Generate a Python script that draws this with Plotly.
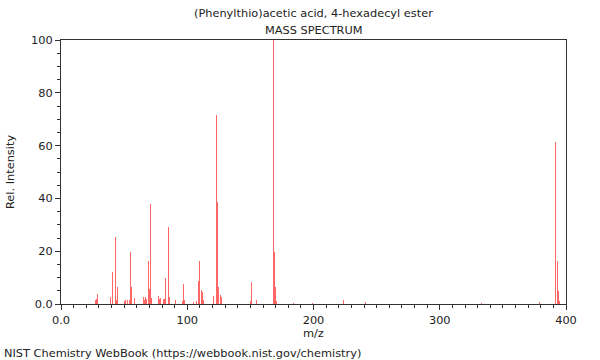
import plotly.graph_objects as go

title_text = "(Phenylthio)acetic acid, 4-hexadecyl ester"
subtitle_text = "MASS SPECTRUM"
footer_text = "NIST Chemistry WebBook (https://webbook.nist.gov/chemistry)"
x_title = "m/z"
y_title = "Rel. Intensity"

mz = [27, 28, 29, 39, 41, 42, 43, 44, 45, 50, 51, 53, 54, 55, 56, 57, 58,
      65, 66, 67, 68, 69, 70, 71, 72, 77, 78, 79, 81, 82, 83, 84, 85, 86,
      91, 95, 96, 97, 98, 99, 105, 107, 109, 110, 111, 112, 113,
      121, 122, 123, 124, 125, 126, 127, 141, 150, 151, 155,
      168, 169, 170, 171, 184, 199, 224, 241, 333, 379, 392, 393, 394, 395]
intensity = [1.5, 2.0, 3.8, 2.5, 12.0, 3.4, 25.3, 1.5, 6.5, 1.2, 1.5, 1.5, 1.5, 19.6, 6.3, 49.0, 2.3,
             2.5, 1.5, 2.8, 1.9, 16.2, 5.5, 38.0, 2.3, 3.0, 2.0, 2.1, 1.9, 1.9, 10.0, 3.8, 29.0, 2.5,
             1.5, 1.3, 1.3, 7.6, 1.5, 8.0, 0.6, 1.1, 8.8, 16.3, 5.3, 4.6, 1.5,
             3.0, 1.5, 71.5, 38.5, 6.6, 3.4, 2.8, 1.8, 1.0, 8.5, 1.5,
             100.0, 19.8, 6.6, 1.0, 0.3, 0.5, 1.5, 0.6, 0.5, 0.8, 61.2, 16.4, 5.0, 1.1]

x_ticks = [0, 100, 200, 300, 400]
x_ticktext = ["0.0", "100", "200", "300", "400"]
y_ticks = [0, 20, 40, 60, 80, 100]
y_ticktext = ["0.0", "20", "40", "60", "80", "100"]

W, H = 600, 360
L, R, T, B = 61, 34, 40, 56
pw, ph = W - L - R, H - T - B

def px(xp):
    return (xp - L) / pw

def py(yp):
    return (H - B - yp) / ph

font = "DejaVu Sans, Verdana, sans-serif"
fs = 11.35
tc = "#222"
fig = go.Figure()
fig.add_trace(go.Bar(x=mz, y=intensity, width=0.7,
                     marker=dict(color="rgba(255,0,0,0.6)", line=dict(width=0)),
                     hoverinfo="x+y"))

axis_common = dict(showgrid=False, zeroline=False, showline=True, linecolor="#333",
                   linewidth=1, mirror=True, ticks="outside", ticklen=5, tickcolor="#333",
                   tickfont=dict(size=fs, color=tc, family=font))
fig.update_xaxes(range=[0, 400], tickvals=x_ticks, ticktext=x_ticktext,
                 minor=dict(dtick=10, ticklen=3, ticks="outside", tickcolor="#333"),
                 **axis_common)
fig.update_yaxes(range=[0, 100], tickvals=y_ticks, ticktext=y_ticktext,
                 minor=dict(dtick=5, ticklen=3, ticks="outside", tickcolor="#333"),
                 **axis_common)

f = dict(size=fs, color=tc, family=font)
anns = [
    dict(text=title_text, x=0.5, y=py(13), xref="paper", yref="paper", showarrow=False,
         font=f, xanchor="center", yanchor="middle"),
    dict(text=subtitle_text, x=0.5, y=py(30), xref="paper", yref="paper", showarrow=False,
         font=f, xanchor="center", yanchor="middle"),
    dict(text=x_title, x=0.5, y=py(333), xref="paper", yref="paper", showarrow=False,
         font=f, xanchor="center", yanchor="middle"),
    dict(text=y_title, x=px(10), y=0.5, xref="paper", yref="paper", showarrow=False,
         font=f, xanchor="center", yanchor="middle", textangle=-90),
    dict(text=footer_text, x=px(2), y=py(353), xref="paper", yref="paper", showarrow=False,
         font=f, xanchor="left", yanchor="middle"),
]
fig.update_layout(width=W, height=H, margin=dict(l=L, r=R, t=T, b=B),
                  plot_bgcolor="white", paper_bgcolor="white", showlegend=False,
                  annotations=anns, bargap=0)
fig.write_html("out.html", config={"displayModeBar": False},
               post_script="document.body.style.margin='0';document.body.style.overflow='hidden';")
